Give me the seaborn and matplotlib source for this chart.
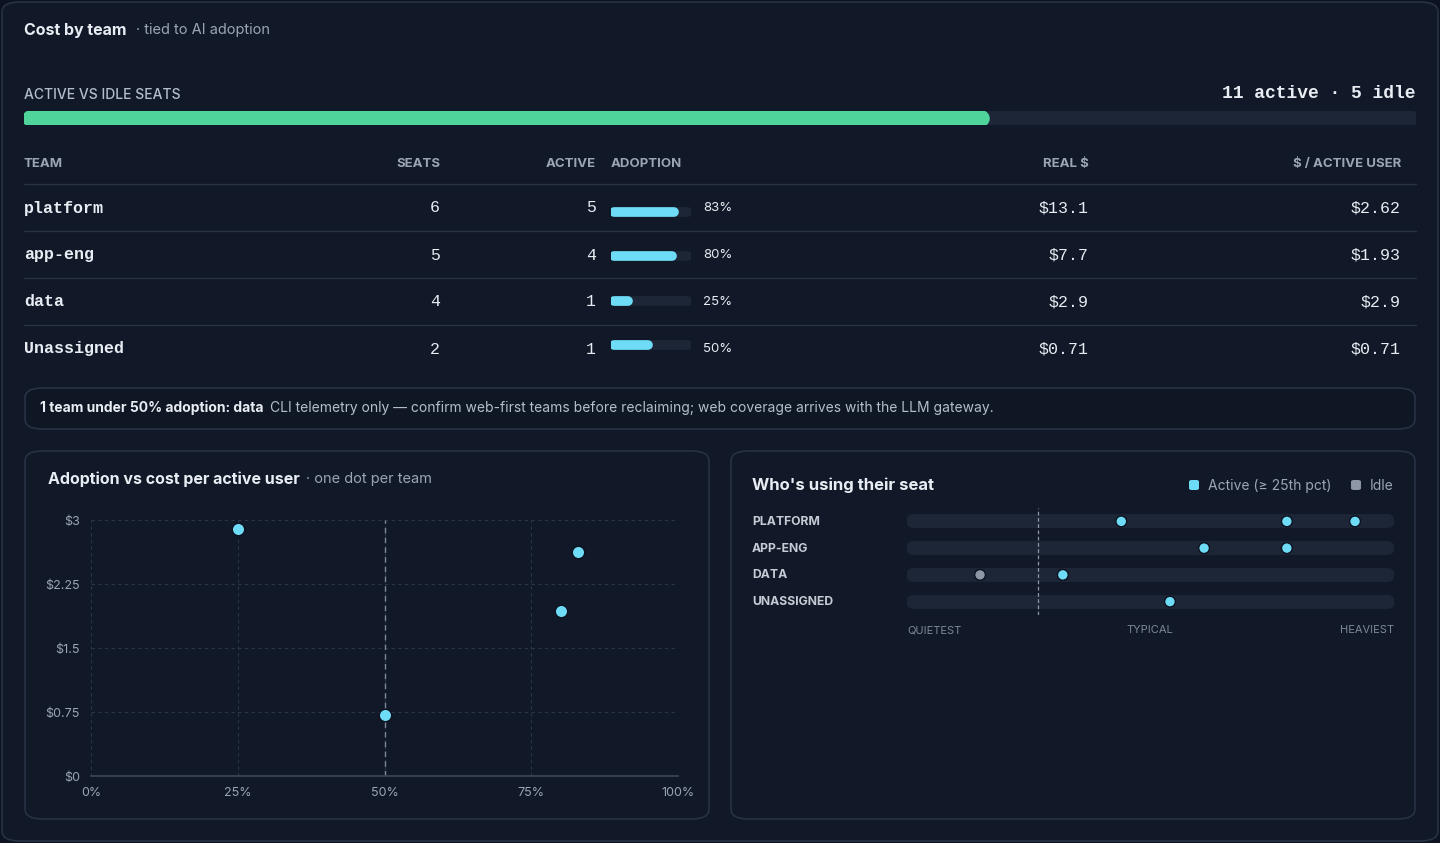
import matplotlib
matplotlib.use("Agg")
import matplotlib.pyplot as plt
import seaborn as sns
import pandas as pd
from matplotlib.patches import FancyBboxPatch

W, H = 1440, 843

teams = ["platform", "app-eng", "data", "Unassigned"]
seats = [6, 5, 4, 2]
active = [5, 4, 1, 1]
adoption = [0.83, 0.80, 0.25, 0.50]
real_cost = ["$13.1", "$7.7", "$2.9", "$0.71"]
per_user = [2.62, 1.93, 2.9, 0.71]
per_user_lbl = ["$2.62", "$1.93", "$2.9", "$0.71"]
active_total, idle_total = 11, 5

# seat usage (0 = quietest, 1 = heaviest)
strip_team = ["PLATFORM", "PLATFORM", "PLATFORM", "APP-ENG", "APP-ENG", "DATA", "DATA", "UNASSIGNED"]
strip_pos = [0.44, 0.78, 0.92, 0.61, 0.78, 0.15, 0.32, 0.54]
strip_state = ["Active", "Active", "Active", "Active", "Active", "Idle", "Active", "Active"]
p25 = 0.27

BG = "#0c1220"
PANEL = "#111827"
EDGE = "#273244"
TRACK = "#1c2636"
CYAN = "#6fdcf7"
GREEN = "#4fd49c"
GREY = "#8d97a6"
TXT = "#e8edf3"
MUTED = "#9aa6b5"

sns.set_theme(style="dark")
plt.rcParams["font.family"] = ["Inter", "DejaVu Sans"]
MONO = "Liberation Mono"

fig = plt.figure(figsize=(W / 100, H / 100), dpi=100, facecolor=BG)


def fx(x):
    return x / W


def fy(y):
    return 1 - y / H


def txt(x, y, s, **kw):
    kw.setdefault("color", TXT)
    kw.setdefault("va", "center")
    fig.text(fx(x), fy(y), s, **kw)


def panel(x0, y0, x1, y1, fc=PANEL):
    fig.patches.append(FancyBboxPatch((fx(x0), fy(y1)), fx(x1 - x0), (y1 - y0) / H,
                                      boxstyle="round,pad=0,rounding_size=0.012",
                                      transform=fig.transFigure, fc=fc, ec=EDGE, lw=1.2))


def axes_px(x0, y0, x1, y1):
    ax = fig.add_axes([fx(x0), fy(y1), fx(x1 - x0), (y1 - y0) / H])
    ax.set_facecolor("none")
    ax.set_zorder(5)
    return ax


panel(2, 2, 1438, 841, fc=PANEL)
panel(25, 451, 709, 819)
panel(731, 451, 1415, 819)
panel(25, 388, 1415, 429, fc="#0f1624")

txt(24, 30, "Cost by team", fontsize=11.5, weight="bold")
txt(136, 30, "· tied to AI adoption", fontsize=10.5, color=MUTED)
txt(24, 95, "ACTIVE VS IDLE SEATS", fontsize=10, color="#b4becb", weight="medium")
txt(1416, 94, f"{active_total} active · {idle_total} idle", fontsize=13, weight="bold",
    family=MONO, ha="right")

# seat bar
ax = axes_px(24, 111, 1416, 125)
tot = active_total + idle_total
ax.plot([0.004, 0.996], [0, 0], color=TRACK, lw=12, solid_capstyle="round")
ax.plot([0.004, active_total / tot], [0, 0], color=GREEN, lw=12, solid_capstyle="round")
ax.set_xlim(0, 1)
ax.axis("off")

# table header
hdr_y = 164
for x, s, ha in [(24, "TEAM", "left"), (440, "SEATS", "right"), (596, "ACTIVE", "right"),
                 (611, "ADOPTION", "left"), (1089, "REAL $", "right"), (1401, "$ / ACTIVE USER", "right")]:
    txt(x, hdr_y, s, fontsize=9.5, color=MUTED, weight="bold", ha=ha)

row_y = [208, 255, 302, 349]
for y in [184, 231, 278, 325]:
    fig.add_artist(plt.Line2D([fx(24), fx(1416)], [fy(y), fy(y)], color=EDGE, lw=1))

for i, y in enumerate(row_y):
    txt(24, y, teams[i], fontsize=12, family=MONO, weight="bold")
    txt(440, y, str(seats[i]), fontsize=12, family=MONO, ha="right")
    txt(596, y, str(active[i]), fontsize=12, family=MONO, ha="right")
    txt(703, y, f"{adoption[i]:.0%}", fontsize=9.5, ha="left")
    txt(1089, y, real_cost[i], fontsize=12, family=MONO, ha="right")
    txt(1401, y, per_user_lbl[i], fontsize=12, family=MONO, ha="right")

# adoption mini bars
ax = axes_px(611, 190, 691, 367)
ypos = list(range(len(teams)))
for i in ypos:
    ax.plot([0.04, 0.96], [i, i], color=TRACK, lw=7, solid_capstyle="round")
    ax.plot([0.04, adoption[i] - 0.04], [i, i], color=CYAN, lw=7, solid_capstyle="round")
ax.set_xlim(0, 1)
ax.set_ylim(3.5, -0.5)
ax.axis("off")

txt(40, 408, "1 team under 50% adoption: data", fontsize=10, weight="bold")
txt(270, 408, "CLI telemetry only — confirm web-first teams before reclaiming; web coverage arrives with the LLM gateway.",
    fontsize=10, color="#b4becb")

# scatter
txt(48, 479, "Adoption vs cost per active user", fontsize=11.5, weight="bold")
txt(306, 479, "· one dot per team", fontsize=10.5, color=MUTED)
ax = axes_px(91, 520, 678, 776)
df = pd.DataFrame({"adoption": adoption, "cost": per_user})
sns.scatterplot(data=df, x="adoption", y="cost", ax=ax, color=CYAN, s=80, edgecolor=BG,
                linewidth=1, zorder=5, clip_on=False)
ax.set_xlim(0, 1)
ax.set_ylim(0, 3)
ax.set_xticks([0, 0.25, 0.5, 0.75, 1])
ax.set_xticklabels(["0%", "25%", "50%", "75%", "100%"])
ax.set_yticks([0, 0.75, 1.5, 2.25, 3])
ax.set_yticklabels(["$0", "$0.75", "$1.5", "$2.25", "$3"])
ax.grid(True, color="#2a3546", ls=(0, (3, 3)), lw=0.8)
ax.axvline(0.5, color="#7d8898", ls=(0, (4, 3)), lw=1)
ax.set_xlabel("")
ax.set_ylabel("")
ax.tick_params(colors=MUTED, labelsize=9, length=0, pad=8)
for s in ax.spines.values():
    s.set_visible(False)
ax.spines["bottom"].set_visible(True)
ax.spines["bottom"].set_color("#3a4556")

# strip
txt(752, 485, "Who's using their seat", fontsize=12, weight="bold")
fig.patches.append(FancyBboxPatch((fx(1189), fy(490)), fx(10), 10 / H,
                                  boxstyle="round,pad=0,rounding_size=0.002",
                                  transform=fig.transFigure, fc=CYAN, ec="none"))
txt(1208, 486, "Active (≥ 25th pct)", fontsize=10, color=MUTED)
fig.patches.append(FancyBboxPatch((fx(1351), fy(490)), fx(10), 10 / H,
                                  boxstyle="round,pad=0,rounding_size=0.002",
                                  transform=fig.transFigure, fc=GREY, ec="none"))
txt(1370, 486, "Idle", fontsize=10, color=MUTED)

lanes = ["PLATFORM", "APP-ENG", "DATA", "UNASSIGNED"]
lane_y = [522, 549, 575, 602]
for name, y in zip(lanes, lane_y):
    txt(752, y, name, fontsize=8.8, color="#c4ccd6", weight="bold")
ax = axes_px(907, 508, 1394, 615)
for i in range(len(lanes)):
    ax.plot([0.012, 0.988], [i, i], color=TRACK, lw=10, solid_capstyle="round", zorder=1)
ax.axvline(p25, color="#8d97a6", ls=(0, (3, 2)), lw=0.9, zorder=2)
sdf = pd.DataFrame({"team": strip_team, "pos": strip_pos, "state": strip_state})
sdf["lane"] = sdf["team"].map({n: i for i, n in enumerate(lanes)})
sns.scatterplot(data=sdf, x="pos", y="lane", hue="state", palette={"Active": CYAN, "Idle": GREY},
                ax=ax, s=60, edgecolor=BG, linewidth=1, zorder=5, legend=False)
ax.set_xlim(0, 1)
ax.set_ylim(3.5, -0.5)
ax.axis("off")
txt(907, 630, "QUIETEST", fontsize=8, color="#7d8898", ha="left")
txt(1150, 630, "TYPICAL", fontsize=8, color="#7d8898", ha="center")
txt(1394, 630, "HEAVIEST", fontsize=8, color="#7d8898", ha="right")

fig.savefig("out.png", dpi=100, facecolor=BG)
